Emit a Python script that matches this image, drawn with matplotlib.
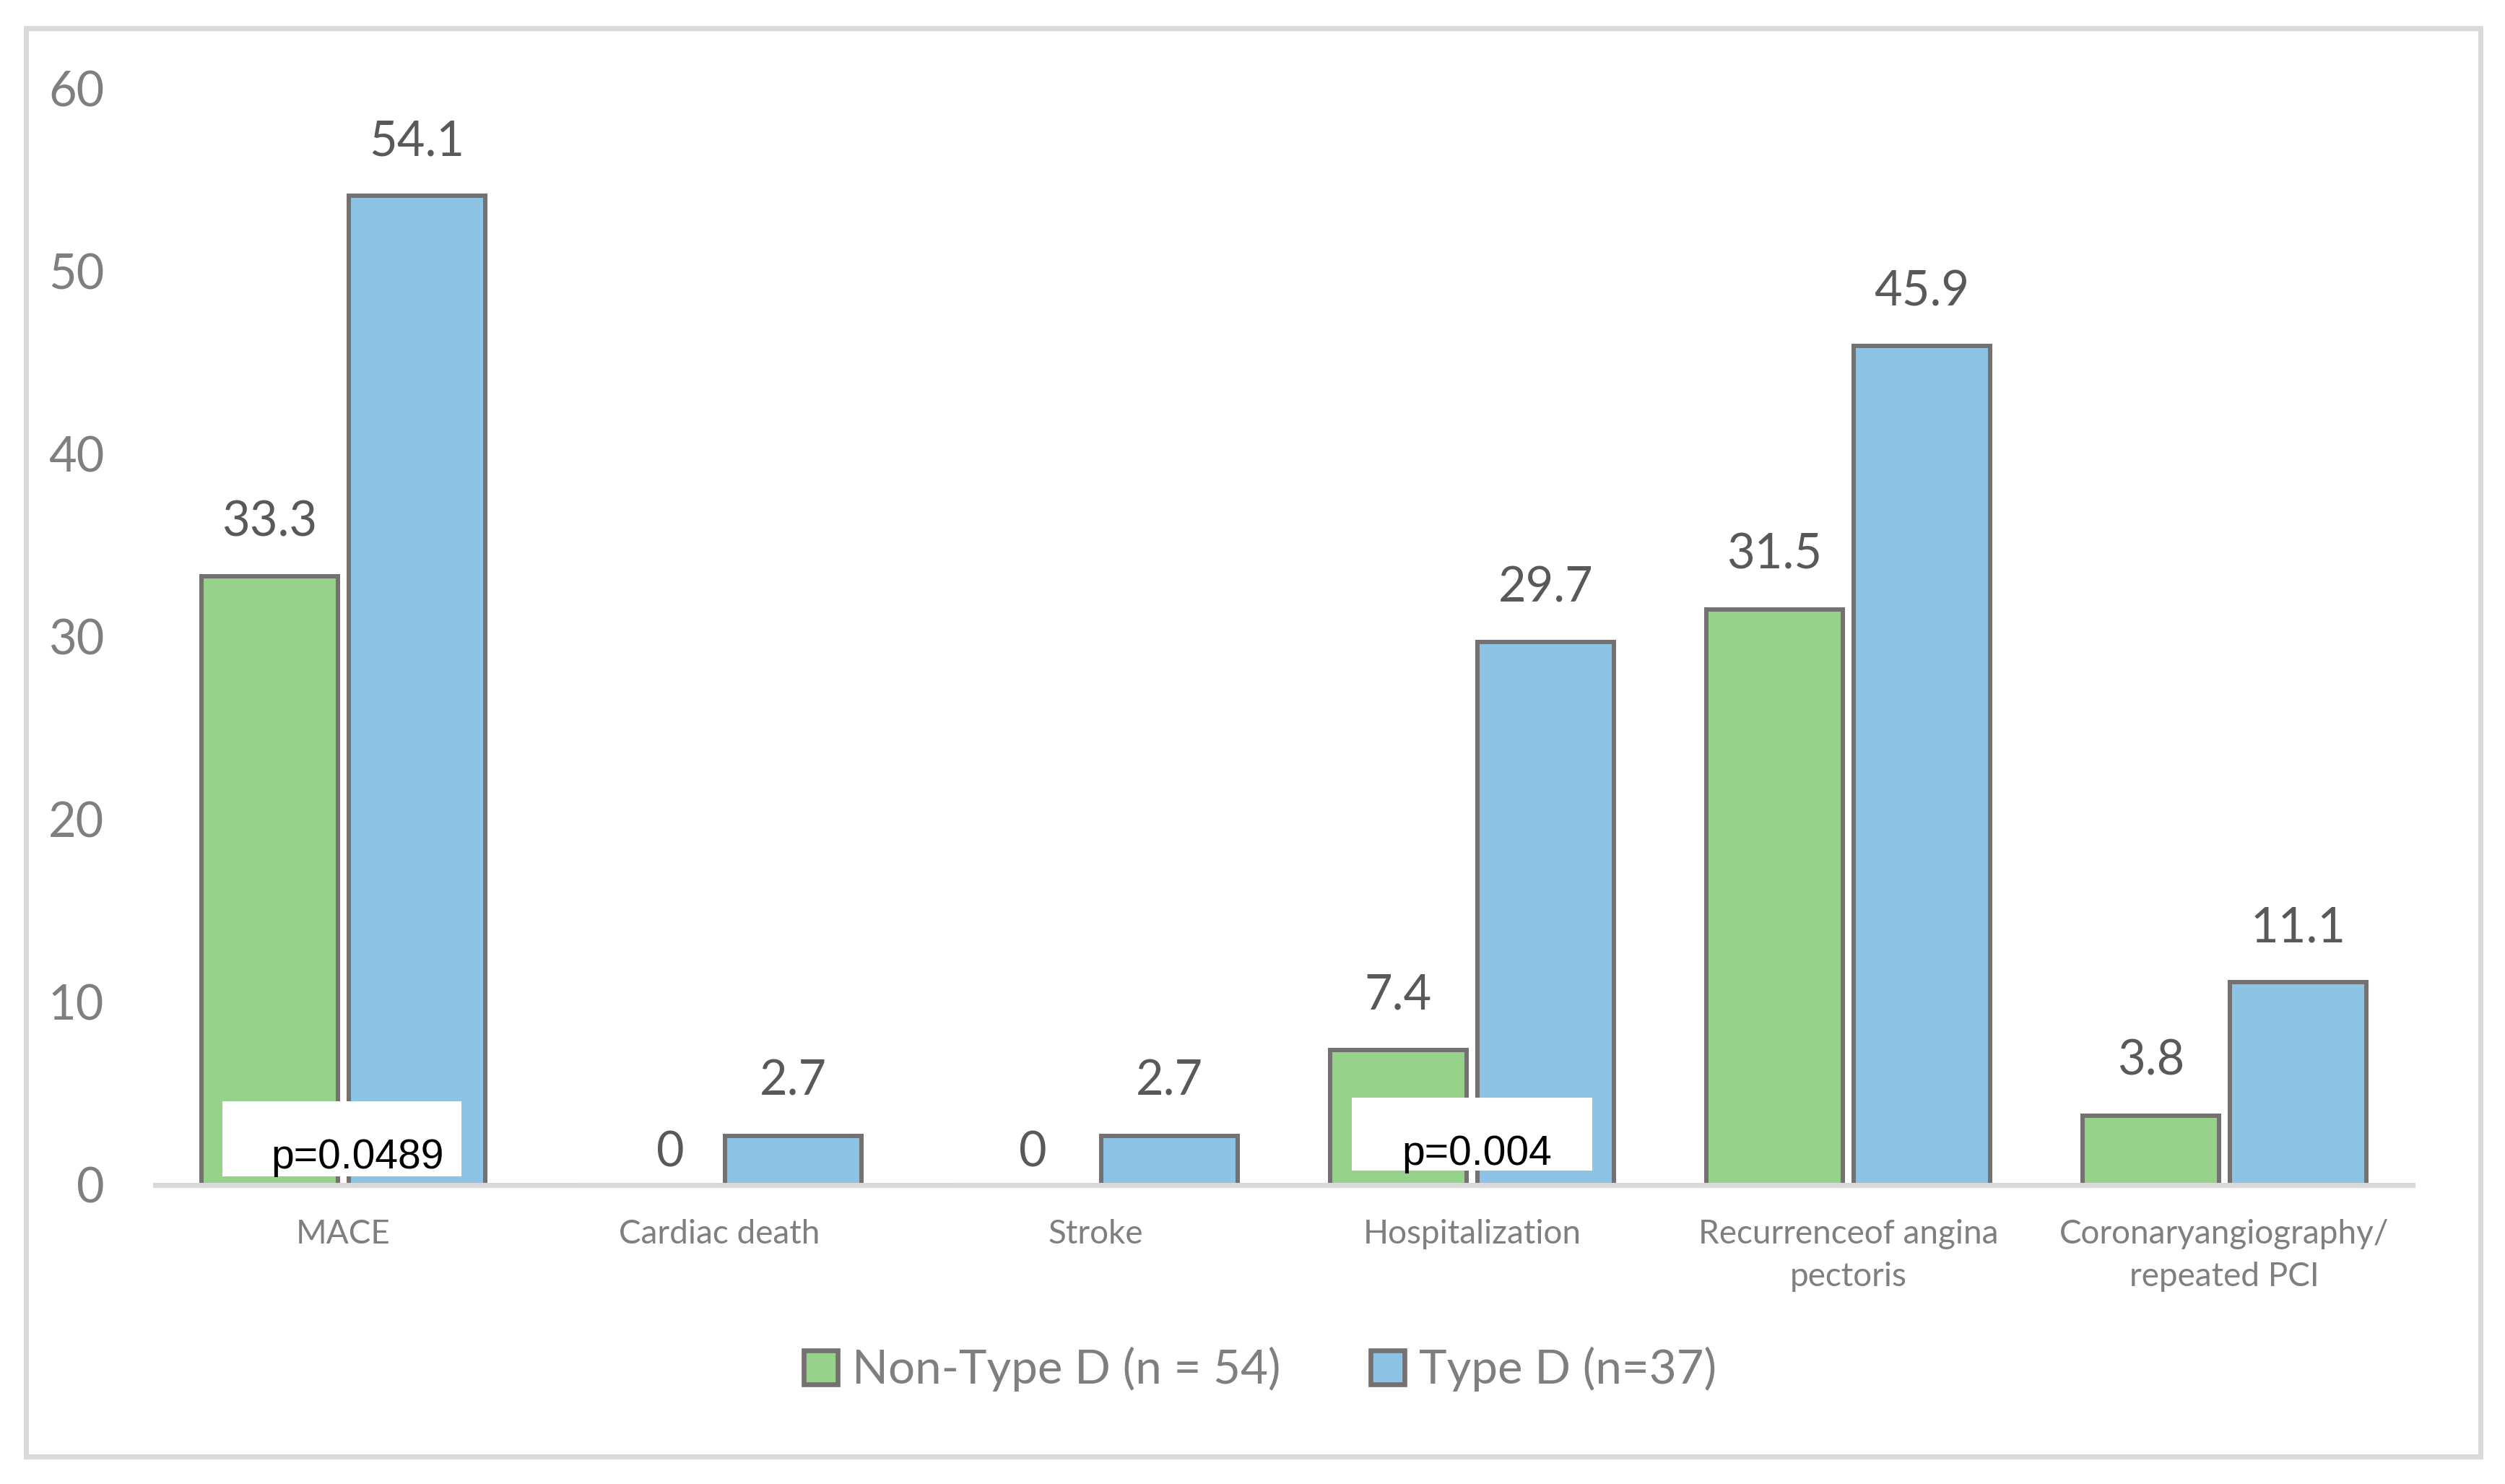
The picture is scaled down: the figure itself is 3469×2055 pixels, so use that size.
import matplotlib
matplotlib.use("Agg")
import matplotlib.pyplot as plt
from matplotlib.patches import Patch, Rectangle
import numpy as np

plt.rcParams['font.family'] = ['Lato', 'DejaVu Sans']

categories = ["MACE", "Cardiac death", "Stroke", "Hospitalization",
              "Recurrenceof angina\npectoris", "Coronaryangiography/\nrepeated PCI"]
non_type_d = [33.3, 0, 0, 7.4, 31.5, 3.8]
type_d = [54.1, 2.7, 2.7, 29.7, 45.9, 11.1]
series_names = ["Non-Type D (n = 54)", "Type D (n=37)"]
yticks = [0, 10, 20, 30, 40, 50, 60]
p_labels = {0: "p=0.0489", 3: "p=0.004"}

green = '#97D28A'
blue = '#8DC3E5'
edge = '#767171'
light = '#D9D9D9'
tick_col = '#7F7F7F'
label_col = '#595959'

W, H, DPI = 3469, 2055, 300
fig = plt.figure(figsize=(W / DPI, H / DPI), dpi=DPI)
ax = fig.add_axes([215 / W, 1 - 1641 / H, (3341 - 215) / W, (1641 - 122) / H])

x = np.arange(len(categories))
bw = 0.363
off = 0.196
ax.bar(x - off, non_type_d, bw, color=green, edgecolor=edge, linewidth=1.45, zorder=1)
ax.bar(x + off, type_d, bw, color=blue, edgecolor=edge, linewidth=1.45, zorder=1)

ax.set_xlim(-0.5, len(categories) - 0.5)
ax.set_ylim(0, 60)
ax.set_yticks(yticks)
ax.set_yticklabels([str(t) for t in yticks], fontsize=16, color=tick_col)
ax.set_xticks(x)
ax.set_xticklabels(categories, fontsize=11, color=tick_col, linespacing=1.5)
ax.tick_params(axis='both', length=0)
ax.tick_params(axis='y', pad=17)
ax.tick_params(axis='x', pad=11.3)
for s in ['left', 'right', 'top']:
    ax.spines[s].set_visible(False)
ax.spines['bottom'].set_color(light)
ax.spines['bottom'].set_linewidth(1.7)
ax.spines['bottom'].set_zorder(2.5)

# data labels
zero_nudge = {1: 8.2, 2: 3.6}
for xs, vals in ((x - off, non_type_d), (x + off, type_d)):
    for i, (xi, v) in enumerate(zip(xs, vals)):
        if v == 0:
            dx, dy = zero_nudge.get(i, 5), 6.2
        else:
            dx, dy = 0, 13.4
        ax.annotate(f"{v:g}", xy=(xi, v), xytext=(dx, dy), textcoords='offset points',
                    ha='center', va='baseline', fontsize=16, color=label_col)

# p-value boxes
for i, txt in p_labels.items():
    if i == 0:
        x0, x1, y0, y1, tx, ty = -0.321, 0.314, 0.47, 4.58, 0.038, 0.91
    else:
        x0, x1, y0, y1, tx, ty = -0.320, 0.319, 0.79, 4.78, 0.012, 1.1
    ax.add_patch(Rectangle((i + x0, y0), x1 - x0, y1 - y0, facecolor='white',
                           edgecolor='none', zorder=3))
    ax.text(i + tx, ty, txt, ha='center', va='baseline', fontsize=13.7,
            family=['Liberation Sans', 'DejaVu Sans'], color='black', zorder=4)

# legend
handles = [Patch(facecolor=green, edgecolor=edge, linewidth=1.6),
           Patch(facecolor=blue, edgecolor=edge, linewidth=1.6)]
fig.legend(handles, series_names, loc='center', bbox_to_anchor=(0.503, 0.0774),
           ncol=2, frameon=False, fontsize=15.7, labelcolor=tick_col,
           handlelength=0.73, handleheight=0.72, handletextpad=0.3,
           columnspacing=1.9)

# outer border
fig.add_artist(Rectangle((36 / W, 1 - 2016.5 / H), (3434.5 - 36) / W, (2016.5 - 38.5) / H,
                         transform=fig.transFigure, facecolor='none',
                         edgecolor=light, linewidth=1.7))

fig.savefig("out.png", dpi=DPI)
